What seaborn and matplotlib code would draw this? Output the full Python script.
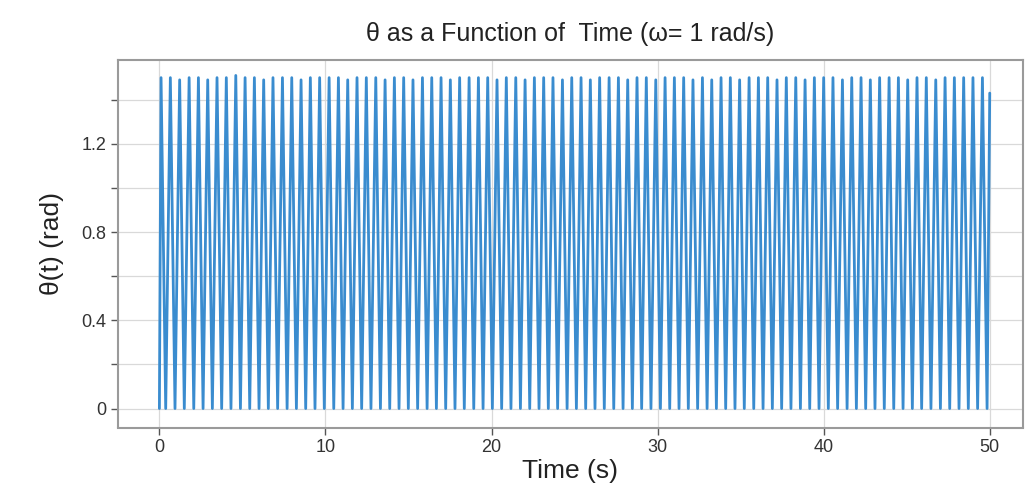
import numpy as np
import pandas as pd
import seaborn as sns
import matplotlib
import matplotlib.pyplot as plt
from matplotlib.ticker import MultipleLocator

matplotlib.use('Agg')
sns.set_style("white")
plt.rcParams['font.family'] = ['Liberation Sans', 'DejaVu Sans']

# -------------------------------Datos

# Tiempos de los picos (s)
t_picos = [0.10, 0.66, 1.22, 1.79, 2.35, 2.91, 3.47, 4.03, 4.60, 5.16,
           5.72, 6.28, 6.84, 7.41, 7.97, 8.53, 9.09, 9.65, 10.22, 10.78,
           11.34, 11.90, 12.46, 13.03, 13.59, 14.15, 14.71, 15.27, 15.84, 16.40,
           16.96, 17.52, 18.08, 18.65, 19.21, 19.77, 20.33, 20.89, 21.46, 22.02,
           22.58, 23.14, 23.70, 24.27, 24.83, 25.39, 25.95, 26.51, 27.08, 27.64,
           28.20, 28.76, 29.32, 29.89, 30.45, 31.01, 31.57, 32.13, 32.70, 33.26,
           33.82, 34.38, 34.94, 35.51, 36.07, 36.63, 37.19, 37.75, 38.32, 38.88,
           39.44, 40.00, 40.56, 41.13, 41.69, 42.25, 42.81, 43.37, 43.94, 44.50,
           45.06, 45.62, 46.18, 46.75, 47.31, 47.87, 48.43, 48.99, 49.56]

# Altura de los picos (rad)
theta_picos = [1.50, 1.50, 1.49, 1.50, 1.50, 1.49, 1.50, 1.50, 1.51, 1.50,
               1.50, 1.49, 1.50, 1.50, 1.50, 1.49, 1.50, 1.50, 1.50, 1.50,
               1.49, 1.50, 1.50, 1.50, 1.49, 1.50, 1.50, 1.49, 1.50, 1.50,
               1.50, 1.49, 1.50, 1.50, 1.50, 1.50, 1.49, 1.50, 1.50, 1.49,
               1.50, 1.50, 1.50, 1.49, 1.50, 1.50, 1.49, 1.50, 1.50, 1.50,
               1.49, 1.50, 1.50, 1.49, 1.50, 1.50, 1.50, 1.49, 1.50, 1.49,
               1.50, 1.50, 1.49, 1.50, 1.50, 1.50, 1.49, 1.50, 1.50, 1.49,
               1.50, 1.50, 1.50, 1.49, 1.50, 1.50, 1.49, 1.50, 1.50, 1.50,
               1.49, 1.50, 1.50, 1.49, 1.50, 1.50, 1.50, 1.50, 1.50]

# Tiempos de los valles (theta = 0)
t_valles = [0.38, 0.94, 1.50, 2.07, 2.63, 3.19, 3.75, 4.31, 4.88, 5.44,
            6.00, 6.56, 7.12, 7.69, 8.25, 8.81, 9.37, 9.93, 10.50, 11.06,
            11.62, 12.18, 12.74, 13.31, 13.87, 14.43, 14.99, 15.55, 16.12, 16.68,
            17.24, 17.80, 18.36, 18.93, 19.49, 20.05, 20.61, 21.17, 21.74, 22.30,
            22.86, 23.42, 23.98, 24.55, 25.11, 25.67, 26.23, 26.79, 27.36, 27.92,
            28.48, 29.04, 29.60, 30.17, 30.73, 31.29, 31.85, 32.41, 32.98, 33.54,
            34.10, 34.66, 35.22, 35.79, 36.35, 36.91, 37.47, 38.03, 38.60, 39.16,
            39.72, 40.28, 40.84, 41.41, 41.97, 42.53, 43.09, 43.65, 44.22, 44.78,
            45.34, 45.90, 46.46, 47.03, 47.59, 48.15, 48.71, 49.27, 49.84]

t_inicio, theta_inicio = 0.0, 0.0
t_final, theta_final = 50.0, 1.43

# Construimos la serie alternando picos y valles
tiempo = [t_inicio]
theta = [theta_inicio]
for tp, hp, tv in zip(t_picos, theta_picos, t_valles):
    tiempo += [tp, tv]
    theta += [hp, 0.0]
tiempo.append(t_final)
theta.append(theta_final)

df = pd.DataFrame({'Tiempo': tiempo, 'Theta': theta})

fig, ax = plt.subplots(figsize=(10.25, 5), dpi=100)
fig.subplots_adjust(left=0.115, right=0.998, top=0.88, bottom=0.145)

sns.lineplot(data=df, x='Tiempo', y='Theta', color='#3a8ccf', linewidth=2.0,
             sort=False, estimator=None, ax=ax)

ax.set_xlim(-2.5, 52)
ax.set_ylim(-0.086, 1.58)
ax.xaxis.set_major_locator(MultipleLocator(10))
ax.yaxis.set_major_locator(MultipleLocator(0.4))
ax.yaxis.set_minor_locator(MultipleLocator(0.2))
ax.yaxis.set_major_formatter(matplotlib.ticker.FuncFormatter(lambda v, p: f'{v:g}'))

ax.grid(True, which='both', axis='y', color='#d9d9d9', linewidth=0.9)
ax.grid(True, which='major', axis='x', color='#d9d9d9', linewidth=0.9)
ax.set_axisbelow(True)

for lado in ['left', 'bottom', 'top', 'right']:
    ax.spines[lado].set_color('#9a9a9a')
    ax.spines[lado].set_linewidth(1.5)

ax.tick_params(axis='both', which='both', direction='out', length=5, width=1,
               color='#555555', labelcolor='#333333', labelsize=13)
ax.tick_params(axis='y', which='both', left=True)
ax.tick_params(axis='x', bottom=True)

ax.set_title('θ as a Function of  Time (ω= 1 rad/s)', fontsize=18, color='#222222', pad=14)
ax.set_xlabel('Time (s)', fontsize=19, color='#222222', labelpad=2)
ax.set_ylabel('θ(t) (rad)', fontsize=19, color='#222222', labelpad=12)

plt.savefig('out.png')
plt.close()
